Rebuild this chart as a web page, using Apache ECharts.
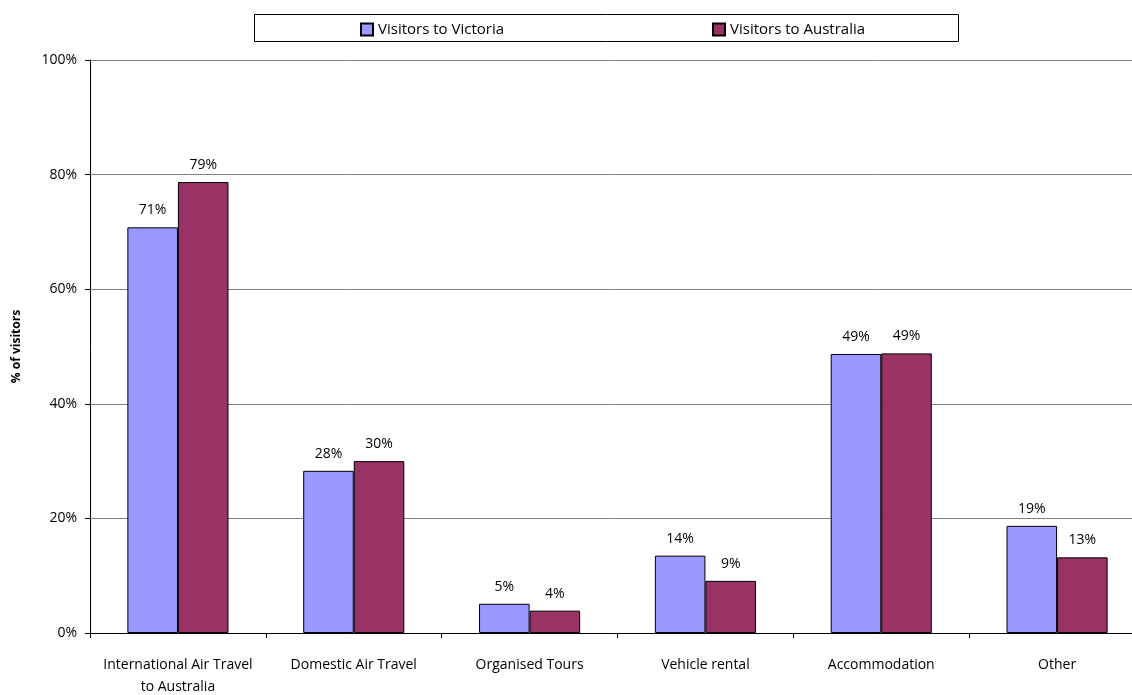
<!DOCTYPE html>
<html><head><meta charset="utf-8">
<script src="https://cdn.jsdelivr.net/npm/echarts@6/dist/echarts.min.js"></script>
<style>html,body{margin:0;padding:0;background:#fff}#c{width:1132px;height:695px}</style>
</head><body><div id="c"></div>
<script>
const categories = ['International Air Travel\nto Australia','Domestic Air Travel','Organised Tours','Vehicle rental','Accommodation','Other'];
const victoria = [70.8, 28.3, 5.1, 13.5, 48.7, 18.7];
const australia = [78.7, 30.0, 3.9, 9.1, 48.8, 13.2];
const seriesNames = ['Visitors to Victoria','Visitors to Australia'];
const yTicks = [0,20,40,60,80,100];

const FONT = '"Open Sans", Lato, sans-serif';
const chart = echarts.init(document.getElementById('c'));
const labelCfg = {show:true, position:'top', distance:10, color:'#000', fontFamily:FONT, fontSize:14,
  formatter: p => Math.round(p.value) + '%'};
chart.setOption({
  animation:false,
  textStyle:{fontFamily:FONT},
  graphic:[{type:'rect', shape:{x:254.5,y:14.5,width:704,height:27}, style:{fill:'none', stroke:'#000', lineWidth:1}, z:0}],
  legend:{left:360, top:22, padding:0, icon:'rect', itemWidth:12, itemHeight:12, itemGap:208,
    textStyle:{fontFamily:FONT, fontSize:15, color:'#000'}, data:seriesNames},
  grid:{left:90, top:60, width:1055, height:573, outerBoundsMode:'none', containLabel:false},
  xAxis:{type:'category', data:categories,
    axisLine:{lineStyle:{color:'#000'}},
    axisTick:{show:true, length:5, interval:0, lineStyle:{color:'#000'}},
    axisLabel:{color:'#000', fontSize:14, margin:21, lineHeight:22, interval:0, fontFamily:FONT}},
  yAxis:{type:'value', min:0, max:100, interval:20,
    name:'% of visitors', nameLocation:'middle', nameRotate:90, nameGap:67,
    nameTextStyle:{fontWeight:'bold', fontSize:12, color:'#000', fontFamily:FONT},
    axisLine:{show:true, lineStyle:{color:'#000'}},
    axisTick:{show:true, length:5, lineStyle:{color:'#000'}},
    axisLabel:{color:'#000', fontSize:14, margin:13, fontFamily:FONT,
      formatter: v => yTicks.includes(v) ? v + '%' : ''},
    splitLine:{lineStyle:{color:'#808080', width:1}}},
  series:[
    {name:seriesNames[0], type:'bar', data:victoria, barGap:'0%', barCategoryGap:'42.5%',
      itemStyle:{color:'#9999FF', borderColor:'#000', borderWidth:1}, label:labelCfg},
    {name:seriesNames[1], type:'bar', data:australia,
      itemStyle:{color:'#993366', borderColor:'#000', borderWidth:1}, label:labelCfg}
  ]
});
</script></body></html>
